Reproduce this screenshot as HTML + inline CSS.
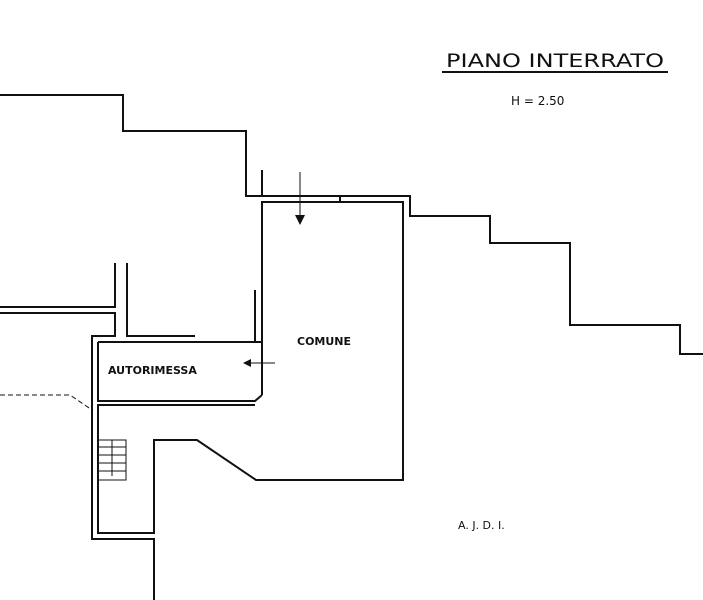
<!DOCTYPE html>
<html><head><style>
body{margin:0;background:#fff}
svg{display:block}
text{font-family:"DejaVu Sans","Liberation Sans",sans-serif;fill:#111}
</style></head><body>
<svg width="703" height="600" viewBox="0 0 703 600" xmlns="http://www.w3.org/2000/svg">
<g fill="none" stroke="#111" stroke-width="2">
<polyline points="0,95 123,95 123,131 246,131 246,196 410,196 410,216 490,216 490,243 570,243 570,325 680,325 680,354 703,354"/>
<line x1="262" y1="170" x2="262" y2="196"/>
<polyline points="262,395 262,202 403,202 403,480 256,480 197,440 154,440 154,533 98,533 98,405 255,405"/>
<polyline points="0,307 115,307 115,263"/>
<polyline points="0,313 115,313 115,336 92,336 92,539 154,539 154,600"/>
<polyline points="127,263 127,336 195,336"/>
<polyline points="98,342 255,342 255,290"/>
<polyline points="98,342 98,401 255,401 262,395"/>
<line x1="255" y1="342" x2="262" y2="342"/>
<line x1="340" y1="196" x2="340" y2="202"/>
</g>
<g fill="none" stroke="#111" stroke-width="1">
<rect x="98" y="440" width="28" height="40"/>
<line x1="98" y1="447" x2="126" y2="447"/><line x1="98" y1="455" x2="126" y2="455"/>
<line x1="98" y1="463" x2="126" y2="463"/><line x1="98" y1="471" x2="126" y2="471"/>
<line x1="112" y1="440" x2="112" y2="476"/>
<polyline points="0,395 70,395 92,410" stroke-dasharray="5,3"/>
<line x1="300" y1="172" x2="300" y2="218"/>
<line x1="275" y1="363" x2="248" y2="363"/>
<line x1="442" y1="72" x2="668" y2="72" stroke-width="2"/>
</g>
<polygon points="295,215 305,215 300,225" fill="#111"/>
<polygon points="243,363 251,359 251,367" fill="#111"/>
<text x="446" y="67" font-size="19" textLength="218" lengthAdjust="spacingAndGlyphs">PIANO INTERRATO</text>
<text x="511" y="105" font-size="12">H = 2.50</text>
<text x="297" y="345" font-size="11" font-weight="bold">COMUNE</text>
<text x="108" y="374" font-size="11" font-weight="bold">AUTORIMESSA</text>
<text x="458" y="529" font-size="11">A. J. D. I.</text>
</svg>
</body></html>
